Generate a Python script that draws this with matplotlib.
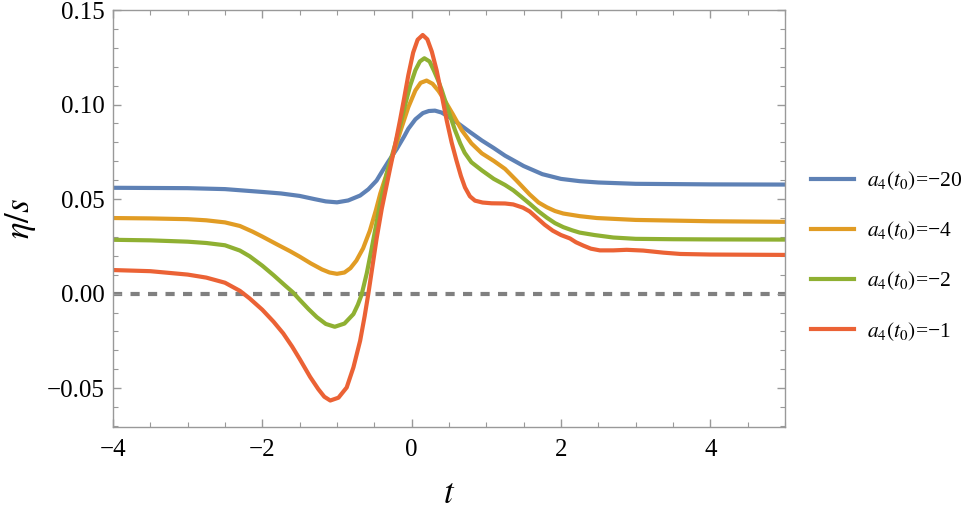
import matplotlib
matplotlib.use("Agg")
import matplotlib.pyplot as plt
from matplotlib.ticker import MultipleLocator, FuncFormatter

# a4(t0) = -20
t_blue = [-4, -3, -2.5, -2.0, -1.75, -1.5, -1.3, -1.15, -1.0, -0.85, -0.69, -0.58, -0.47,
          -0.39, -0.31, -0.2, -0.1, -0.045, 0.05, 0.15, 0.23, 0.312, 0.4, 0.5, 0.625,
          0.78, 0.94, 1.1, 1.25, 1.5, 1.75, 2.0, 2.25, 2.5, 3, 4, 5]
v_blue = [0.056, 0.0558, 0.0553, 0.0538, 0.053, 0.0517, 0.0500, 0.0488, 0.0483, 0.0493,
          0.0519, 0.0552, 0.0598, 0.065, 0.070, 0.0765, 0.0832, 0.0872, 0.0922, 0.0955,
          0.0966, 0.0968, 0.0958, 0.0935, 0.090, 0.0855, 0.081, 0.077, 0.073, 0.0675,
          0.0632, 0.0607, 0.0595, 0.0588, 0.0581, 0.0578, 0.0577]

# a4(t0) = -4
t_orange = [-4, -3.5, -3, -2.75, -2.5, -2.3, -2.13, -2.0, -1.8, -1.63, -1.5, -1.35, -1.2,
            -1.1, -1.0, -0.9, -0.82, -0.74, -0.65, -0.56, -0.48, -0.42, -0.33, -0.246,
            -0.15, -0.045, 0.05, 0.12, 0.2, 0.28, 0.36, 0.446, 0.55, 0.67, 0.8, 0.94,
            1.1, 1.25, 1.4, 1.58, 1.7, 1.81, 1.92, 2.03, 2.25, 2.48, 3, 4, 5]
v_orange = [0.040, 0.0398, 0.0394, 0.0388, 0.0377, 0.0358, 0.0328, 0.0302, 0.026, 0.0225,
            0.0196, 0.016, 0.0128, 0.0112, 0.0105, 0.0112, 0.0135, 0.0175, 0.024, 0.0333,
            0.044, 0.053, 0.064, 0.074, 0.086, 0.0986, 0.1075, 0.1115, 0.1127, 0.111,
            0.1072, 0.102, 0.095, 0.0865, 0.0795, 0.0742, 0.0702, 0.066, 0.060, 0.0525,
            0.0482, 0.0457, 0.0437, 0.0424, 0.041, 0.040, 0.039, 0.0383, 0.038]

# a4(t0) = -2
t_green = [-4, -3.5, -3, -2.75, -2.5, -2.3, -2.17, -2.0, -1.85, -1.7, -1.59, -1.5, -1.38,
           -1.27, -1.15, -1.03, -0.9, -0.78, -0.72, -0.67, -0.6, -0.535, -0.42, -0.33,
           -0.22, -0.15, -0.09, -0.02, 0.05, 0.11, 0.17, 0.24, 0.3, 0.35, 0.4, 0.49,
           0.58, 0.65, 0.71, 0.8, 0.94, 1.1, 1.25, 1.36, 1.47, 1.58, 1.7, 1.81, 1.92,
           2.03, 2.15, 2.25, 2.45, 2.7, 3, 3.5, 4, 5]
v_green = [0.0285, 0.0282, 0.0275, 0.0268, 0.0256, 0.0228, 0.0198, 0.0148, 0.0098, 0.0045,
           0.0007, -0.0032, -0.0082, -0.0124, -0.016, -0.0175, -0.0158, -0.0108, -0.0058,
           -0.0005, 0.011, 0.024, 0.048, 0.064, 0.079, 0.0895, 0.0995, 0.110, 0.1182,
           0.1228, 0.1245, 0.1228, 0.1178, 0.1132, 0.108, 0.097, 0.0865, 0.0795, 0.0745,
           0.0695, 0.0652, 0.0607, 0.0575, 0.0547, 0.0512, 0.0476, 0.0435, 0.0402, 0.0373,
           0.0352, 0.0335, 0.0323, 0.031, 0.0297, 0.029, 0.0288, 0.0287, 0.0286]

# a4(t0) = -1
t_red = [-4, -3.5, -3, -2.75, -2.5, -2.3, -2.17, -2.0, -1.85, -1.72, -1.6, -1.5, -1.36,
         -1.25, -1.17, -1.09, -0.98, -0.87, -0.78, -0.69, -0.63, -0.58, -0.47, -0.40,
         -0.29, -0.22, -0.157, -0.1, -0.045, 0.02, 0.08, 0.148, 0.21, 0.27, 0.335, 0.40,
         0.47, 0.535, 0.60, 0.66, 0.714, 0.78, 0.848, 0.95, 1.07, 1.25, 1.36, 1.49,
         1.58, 1.68, 1.78, 1.89, 2.0, 2.12, 2.2, 2.3, 2.4, 2.52, 2.7, 2.88, 3.1, 3.37,
         3.6, 4, 5]
v_red = [0.0125, 0.0119, 0.0101, 0.0085, 0.0058, 0.0015, -0.0025, -0.0085, -0.0148, -0.021,
         -0.028, -0.0345, -0.044, -0.0505, -0.0545, -0.0565, -0.055, -0.0496, -0.039,
         -0.0249, -0.012, 0.0, 0.029, 0.045, 0.066, 0.079, 0.0915, 0.1035, 0.1155, 0.1275,
         0.1343, 0.1368, 0.1345, 0.128, 0.118, 0.1055, 0.0915, 0.080, 0.0704, 0.0622,
         0.0562, 0.0515, 0.0492, 0.0482, 0.0478, 0.0477, 0.0472, 0.0455, 0.0435, 0.040,
         0.0365, 0.0333, 0.031, 0.0292, 0.0272, 0.0254, 0.0238, 0.0229, 0.0229, 0.0232,
         0.0228, 0.0217, 0.021, 0.0207, 0.0205]

labels = ["$a_4(t_0)$=\u221220", "$a_4(t_0)$=\u22124", "$a_4(t_0)$=\u22122", "$a_4(t_0)$=\u22121"]
colors = ["#5E81B5", "#E19C24", "#8FB032", "#EB6235"]

plt.rcParams["font.family"] = ["Liberation Serif", "DejaVu Serif"]
plt.rcParams["mathtext.fontset"] = "stix"
plt.rcParams["axes.unicode_minus"] = True

fig = plt.figure(figsize=(9.63, 5.11), dpi=100)
ax = fig.add_axes([0.1173, 0.1644, 0.6979, 0.816])

ax.plot([-4, 5], [0, 0], color="#808080", lw=3, dashes=(2.2, 2.0),
        dash_capstyle="butt", zorder=1)

series = [(t_blue, v_blue), (t_orange, v_orange), (t_green, v_green), (t_red, v_red)]
for (tt, vv), lab, col in zip(series, labels, colors):
    ax.plot(tt, vv, color=col, lw=3, label=lab, solid_joinstyle="round", zorder=2)

ax.set_xlim(-4, 5)
ax.set_ylim(-0.0705, 0.15001)
ax.xaxis.set_major_locator(MultipleLocator(2))
ax.xaxis.set_minor_locator(MultipleLocator(0.5))
ax.yaxis.set_major_locator(MultipleLocator(0.05))
ax.yaxis.set_minor_locator(MultipleLocator(0.01))
ax.yaxis.set_major_formatter(FuncFormatter(lambda v, p: f"{v:.2f}".replace("-", "\u2212")))

for s in ax.spines.values():
    s.set_color("#999999")
    s.set_linewidth(1.0)
ax.tick_params(which="both", direction="in", top=True, right=True, color="#999999",
               labelsize=18)
ax.tick_params(which="major", length=6, width=1.0)
ax.tick_params(which="minor", length=3.5, width=0.8)
ax.tick_params(axis="x", pad=9)
ax.tick_params(axis="y", pad=6)

ax.set_xlabel("$t$", fontsize=25, labelpad=12)
ax.set_ylabel(r"$\eta/s$", fontsize=25, labelpad=6)

fig.legend(loc="center left", bbox_to_anchor=(0.822, 0.499), frameon=False, fontsize=15.5,
           handlelength=2.0, handletextpad=0.6, labelspacing=1.28, borderaxespad=0.5)

fig.savefig("out.png", dpi=100)
